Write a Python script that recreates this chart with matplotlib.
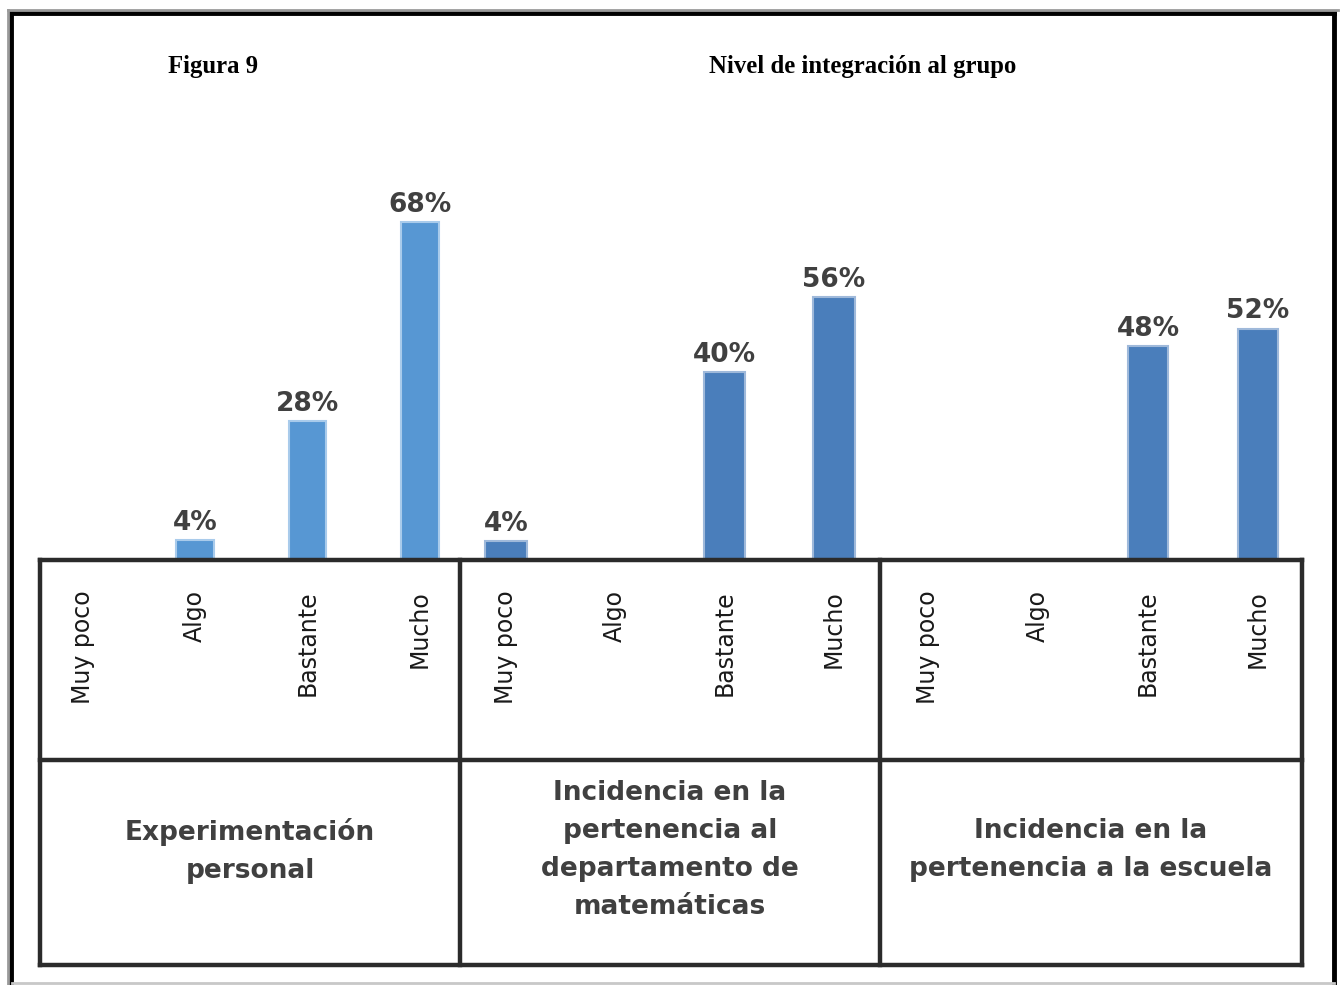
import matplotlib
matplotlib.use("Agg")
import matplotlib.pyplot as plt
from matplotlib.lines import Line2D

# ---- data ----
categories = ["Muy poco", "Algo", "Bastante", "Mucho"]
group_titles = [
    "Experimentación\npersonal",
    "Incidencia en la\npertenencia al\ndepartamento de\nmatemáticas",
    "Incidencia en la\npertenencia a la escuela",
]
values_experimentacion = [0, 4, 28, 68]
values_departamento = [4, 0, 40, 56]
values_escuela = [0, 0, 48, 52]
fig_title_left = "Figura 9"
fig_title_main = "Nivel de integración al grupo"

groups = [values_experimentacion, values_departamento, values_escuela]

# ---- style ----
W, H = 1343, 985
colors = ["#5797d3", "#4a7ebb", "#4a7ebb"]
edge_colors = ["#a9cbeb", "#9fb9da", "#9fb9da"]
ylims = [82.5, 87.2, 92.1]
xlims = [(-0.378, 3.356), (-0.421, 3.422), (-0.436, 3.40)]
bar_widths = [0.33, 0.38, 0.37]
text_gray = "#404040"
line_col = "#2b2b2b"

fig = plt.figure(figsize=(W / 100, H / 100), dpi=100)
fig.patch.set_facecolor("white")

def fx(px):
    return px / W

def fy(py):
    return 1 - py / H

# table geometry (pixels)
col_edges = [40, 460, 880, 1302]
y_base, y_mid, y_bot = 560, 760, 965
ax_top = 150

for i, vals in enumerate(groups):
    x0, x1 = col_edges[i], col_edges[i + 1]
    ax = fig.add_axes([fx(x0), fy(y_base), fx(x1 - x0), (y_base - ax_top) / H])
    ax.set_xlim(*xlims[i])
    ax.set_ylim(0, ylims[i])
    pos = list(range(len(categories)))
    bars = ax.bar(pos, vals, width=bar_widths[i], color=colors[i],
                  edgecolor=edge_colors[i], linewidth=1.5)
    for b, v in zip(bars, vals):
        if v > 0:
            ax.annotate(f"{v}%", (b.get_x() + b.get_width() / 2, v),
                        xytext=(0, 3), textcoords="offset points",
                        ha="center", va="bottom", fontsize=19,
                        color=text_gray, fontweight="bold",
                        family="DejaVu Sans")
    ax.axis("off")
    # category labels inside the table
    for p, c in zip(pos, categories):
        ax.annotate(c, (p, 0), xytext=(0, -(590 - y_base) * 0.72),
                    textcoords="offset points", rotation=90,
                    ha="center", va="top", fontsize=17, color="#1a1a1a",
                    family="DejaVu Sans")
    # group title in lower cell
    fig.text(fx((x0 + x1) / 2), fy((y_mid + y_bot) / 2 - 12), group_titles[i],
             ha="center", va="center", fontsize=19, color=text_gray,
             fontweight="bold", family="DejaVu Sans", linespacing=1.6)

# table lines
lw = 3.2
for yy in (y_base, y_mid, y_bot):
    fig.add_artist(Line2D([fx(col_edges[0]), fx(col_edges[-1])], [fy(yy), fy(yy)],
                          color=line_col, lw=lw, transform=fig.transFigure))
for xx in col_edges:
    fig.add_artist(Line2D([fx(xx), fx(xx)], [fy(y_base), fy(y_bot)],
                          color=line_col, lw=lw, transform=fig.transFigure))

# outer frame
frame = dict(color="black", lw=3.5, transform=fig.transFigure)
fig.add_artist(Line2D([fx(11), fx(11)], [fy(13), 0], **frame))
fig.add_artist(Line2D([fx(11), fx(1334)], [fy(13), fy(13)], **frame))
fig.add_artist(Line2D([fx(1334), fx(1334)], [fy(13), 0], **frame))
fig.add_artist(Line2D([fx(8), fx(8)], [fy(10), 0], color="#9a9a9a", lw=2, transform=fig.transFigure))
fig.add_artist(Line2D([fx(8), fx(1338)], [fy(10), fy(10)], color="#9a9a9a", lw=2, transform=fig.transFigure))
fig.add_artist(Line2D([fx(12), fx(1334)], [fy(983), fy(983)], color="#c8c8c8", lw=2, transform=fig.transFigure))

# titles
fig.text(fx(168), fy(67), fig_title_left, ha="left", va="center", fontsize=17.8,
         fontweight="bold", family="Liberation Serif", color="black")
fig.text(fx(709), fy(67), fig_title_main, ha="left", va="center", fontsize=17.8,
         fontweight="bold", family="Liberation Serif", color="black")

fig.savefig("out.png", dpi=100, facecolor="white")
